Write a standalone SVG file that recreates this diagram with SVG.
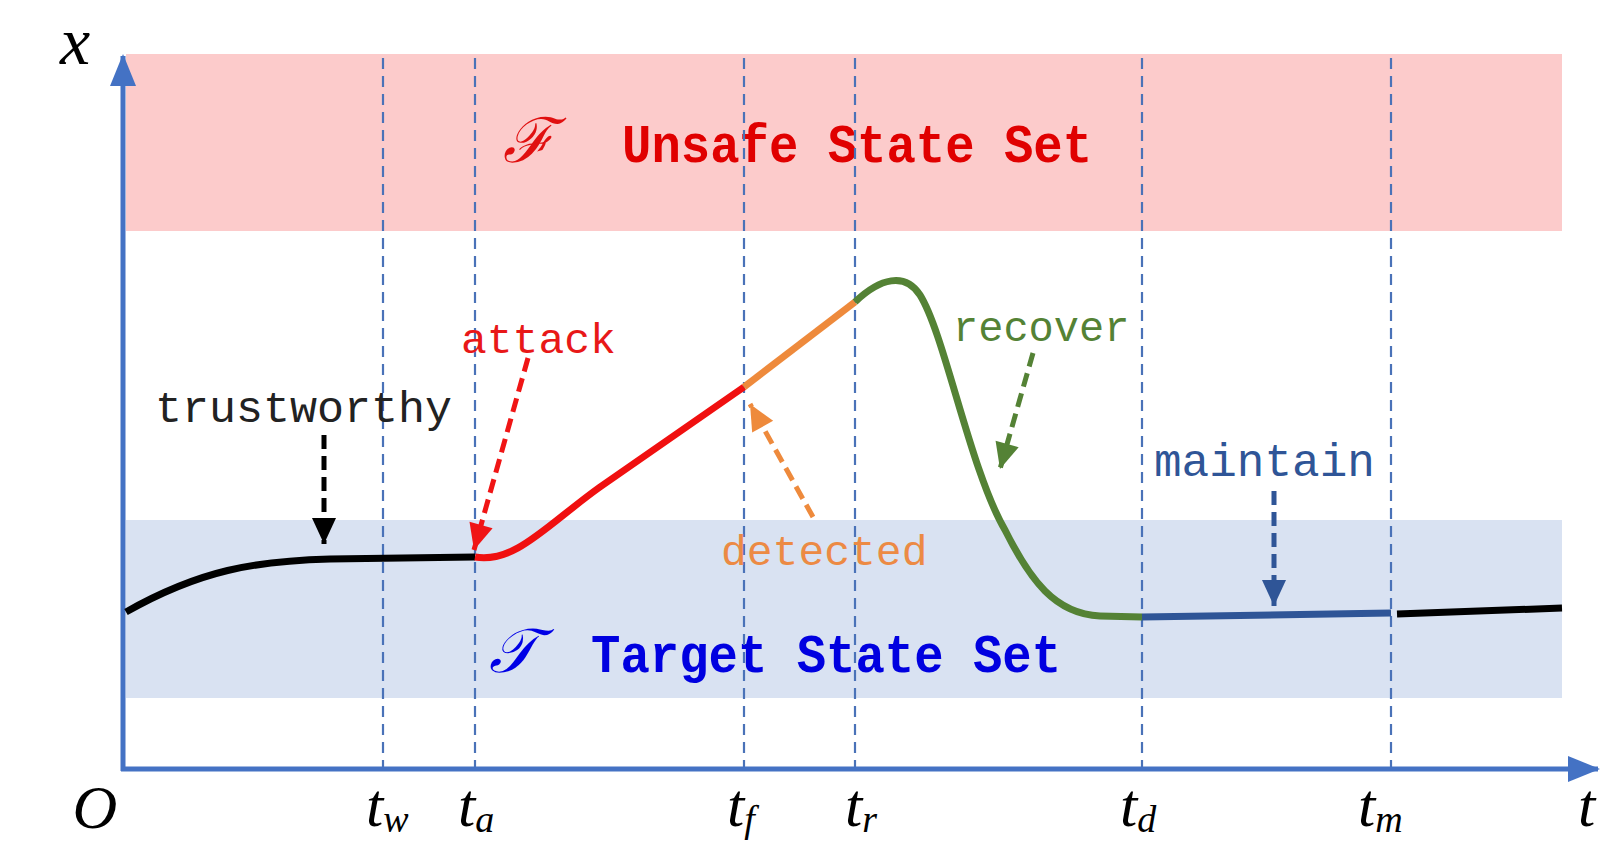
<svg xmlns="http://www.w3.org/2000/svg" width="1604" height="845" viewBox="0 0 1604 845">
<style>
.lbl{font-family:"Liberation Mono","DejaVu Sans Mono",monospace}
.big{font-family:"Liberation Mono","DejaVu Sans Mono",monospace;font-weight:bold}
.math{font-family:"Liberation Serif","DejaVu Serif",serif;font-style:italic}
.grid{stroke:#4a72b8;stroke-width:2.2;stroke-dasharray:11 7;fill:none}
.curve{fill:none;stroke-width:7;stroke-linecap:butt}
.darr{fill:none;stroke-width:5;stroke-dasharray:14 7}
</style>
<defs>
<marker id="hK" markerUnits="userSpaceOnUse" markerWidth="30" markerHeight="30" viewBox="0 0 30 30" refX="28" refY="15" orient="auto"><path d="M2,3 L28,15 L2,27 Z" fill="#000"/></marker>
<marker id="hR" markerUnits="userSpaceOnUse" markerWidth="30" markerHeight="30" viewBox="0 0 30 30" refX="28" refY="15" orient="auto"><path d="M2,3 L28,15 L2,27 Z" fill="#f01515"/></marker>
<marker id="hO" markerUnits="userSpaceOnUse" markerWidth="30" markerHeight="30" viewBox="0 0 30 30" refX="28" refY="15" orient="auto"><path d="M2,3 L28,15 L2,27 Z" fill="#ee8a3c"/></marker>
<marker id="hG" markerUnits="userSpaceOnUse" markerWidth="30" markerHeight="30" viewBox="0 0 30 30" refX="28" refY="15" orient="auto"><path d="M2,3 L28,15 L2,27 Z" fill="#548235"/></marker>
<marker id="hB" markerUnits="userSpaceOnUse" markerWidth="30" markerHeight="30" viewBox="0 0 30 30" refX="28" refY="15" orient="auto"><path d="M2,3 L28,15 L2,27 Z" fill="#2f5597"/></marker>
<marker id="hA" markerUnits="userSpaceOnUse" markerWidth="34" markerHeight="34" viewBox="0 0 34 34" refX="30" refY="17" orient="auto"><path d="M0,4 L32,17 L0,30 Z" fill="#4472c4"/></marker>
</defs>
<rect width="1604" height="845" fill="#fff"/>
<g id="unsafe-set">
<rect x="126" y="54" width="1436" height="177" fill="#fccbcb"/>
<text class="math" x="528" y="162" font-size="62" fill="#e01010" text-anchor="middle">ℱ</text>
<text class="big" x="622" y="162" font-size="54" fill="#e00000" textLength="470" lengthAdjust="spacingAndGlyphs">Unsafe State Set</text>
</g>
<g id="target-set">
<rect x="126" y="520" width="1436" height="178" fill="#d9e2f2"/>
<text class="math" x="512" y="672" font-size="62" fill="#0000e6" text-anchor="middle">𝒯</text>
<text class="big" x="591" y="672" font-size="54" fill="#0000e0" textLength="470" lengthAdjust="spacingAndGlyphs">Target State Set</text>
</g>
<g id="gridlines">
<line class="grid" x1="383" y1="58" x2="383" y2="768"/>
<line class="grid" x1="475" y1="58" x2="475" y2="768"/>
<line class="grid" x1="744" y1="58" x2="744" y2="768"/>
<line class="grid" x1="855" y1="58" x2="855" y2="768"/>
<line class="grid" x1="1142" y1="58" x2="1142" y2="768"/>
<line class="grid" x1="1391" y1="58" x2="1391" y2="768"/>
</g>
<g id="axes">
<line x1="123" y1="771" x2="123" y2="56" stroke="#4472c4" stroke-width="5" marker-end="url(#hA)"/>
<line x1="121" y1="769" x2="1598" y2="769" stroke="#4472c4" stroke-width="5" marker-end="url(#hA)"/>
<text class="math" x="75" y="64" font-size="68" fill="#000" text-anchor="middle">x</text>
<text class="math" x="95" y="828" font-size="62" fill="#000" text-anchor="middle">O</text>
<text class="math" x="366" y="826" font-size="62" fill="#000">t<tspan font-size="38" dy="6">w</tspan></text>
<text class="math" x="458" y="826" font-size="62" fill="#000">t<tspan font-size="38" dy="6">a</tspan></text>
<text class="math" x="727" y="826" font-size="62" fill="#000">t<tspan font-size="38" dy="6">f</tspan></text>
<text class="math" x="845" y="826" font-size="62" fill="#000">t<tspan font-size="38" dy="6">r</tspan></text>
<text class="math" x="1120" y="826" font-size="62" fill="#000">t<tspan font-size="38" dy="6">d</tspan></text>
<text class="math" x="1358" y="826" font-size="62" fill="#000">t<tspan font-size="38" dy="6">m</tspan></text>
<text class="math" x="1578" y="826" font-size="62" fill="#000">t</text>
</g>
<g id="trajectory">
<path class="curve" stroke="#000" d="M126,612 C200,570 255,561 330,559 L475,557"/>
<path class="curve" stroke="#f01010" d="M475,557 C515,564 548,524 600,487 L744,387"/>
<path class="curve" stroke="#ee8a3c" d="M744,387 L855,302"/>
<path class="curve" stroke="#548235" d="M855,302 C880,278 905,272 920,295 C945,335 970,470 1005,530 C1030,580 1055,614 1100,616 L1142,617"/>
<path class="curve" stroke="#2f5597" d="M1142,617 L1391,613"/>
<path class="curve" stroke="#000" d="M1397,614 L1562,608"/>
</g>
<g id="trustworthy">
<text class="lbl" x="155" y="422" font-size="45" fill="#222">trustworthy</text>
</g>
<g id="attack">
<text class="lbl" x="461" y="353" font-size="43" fill="#e81818">attack</text>
</g>
<g id="detected">
<text class="lbl" x="721" y="565" font-size="43" fill="#ec8a44">detected</text>
</g>
<g id="recover">
<text class="lbl" x="953" y="341" font-size="42" fill="#548235">recover</text>
</g>
<g id="maintain">
<text class="lbl" x="1154" y="476" font-size="46" fill="#2f5597">maintain</text>
</g>
<g id="connectors">
<line class="darr" stroke="#000" x1="324" y1="435" x2="324" y2="544" marker-end="url(#hK)"/>
<line class="darr" stroke="#f01515" x1="528" y1="358" x2="474" y2="550" marker-end="url(#hR)"/>
<line class="darr" stroke="#ee8a3c" x1="813" y1="517" x2="750" y2="404" marker-end="url(#hO)"/>
<line class="darr" stroke="#548235" x1="1033" y1="353" x2="1000" y2="469" marker-end="url(#hG)"/>
<line class="darr" stroke="#2f5597" x1="1274" y1="491" x2="1274" y2="606" marker-end="url(#hB)"/>
</g>
</svg>
